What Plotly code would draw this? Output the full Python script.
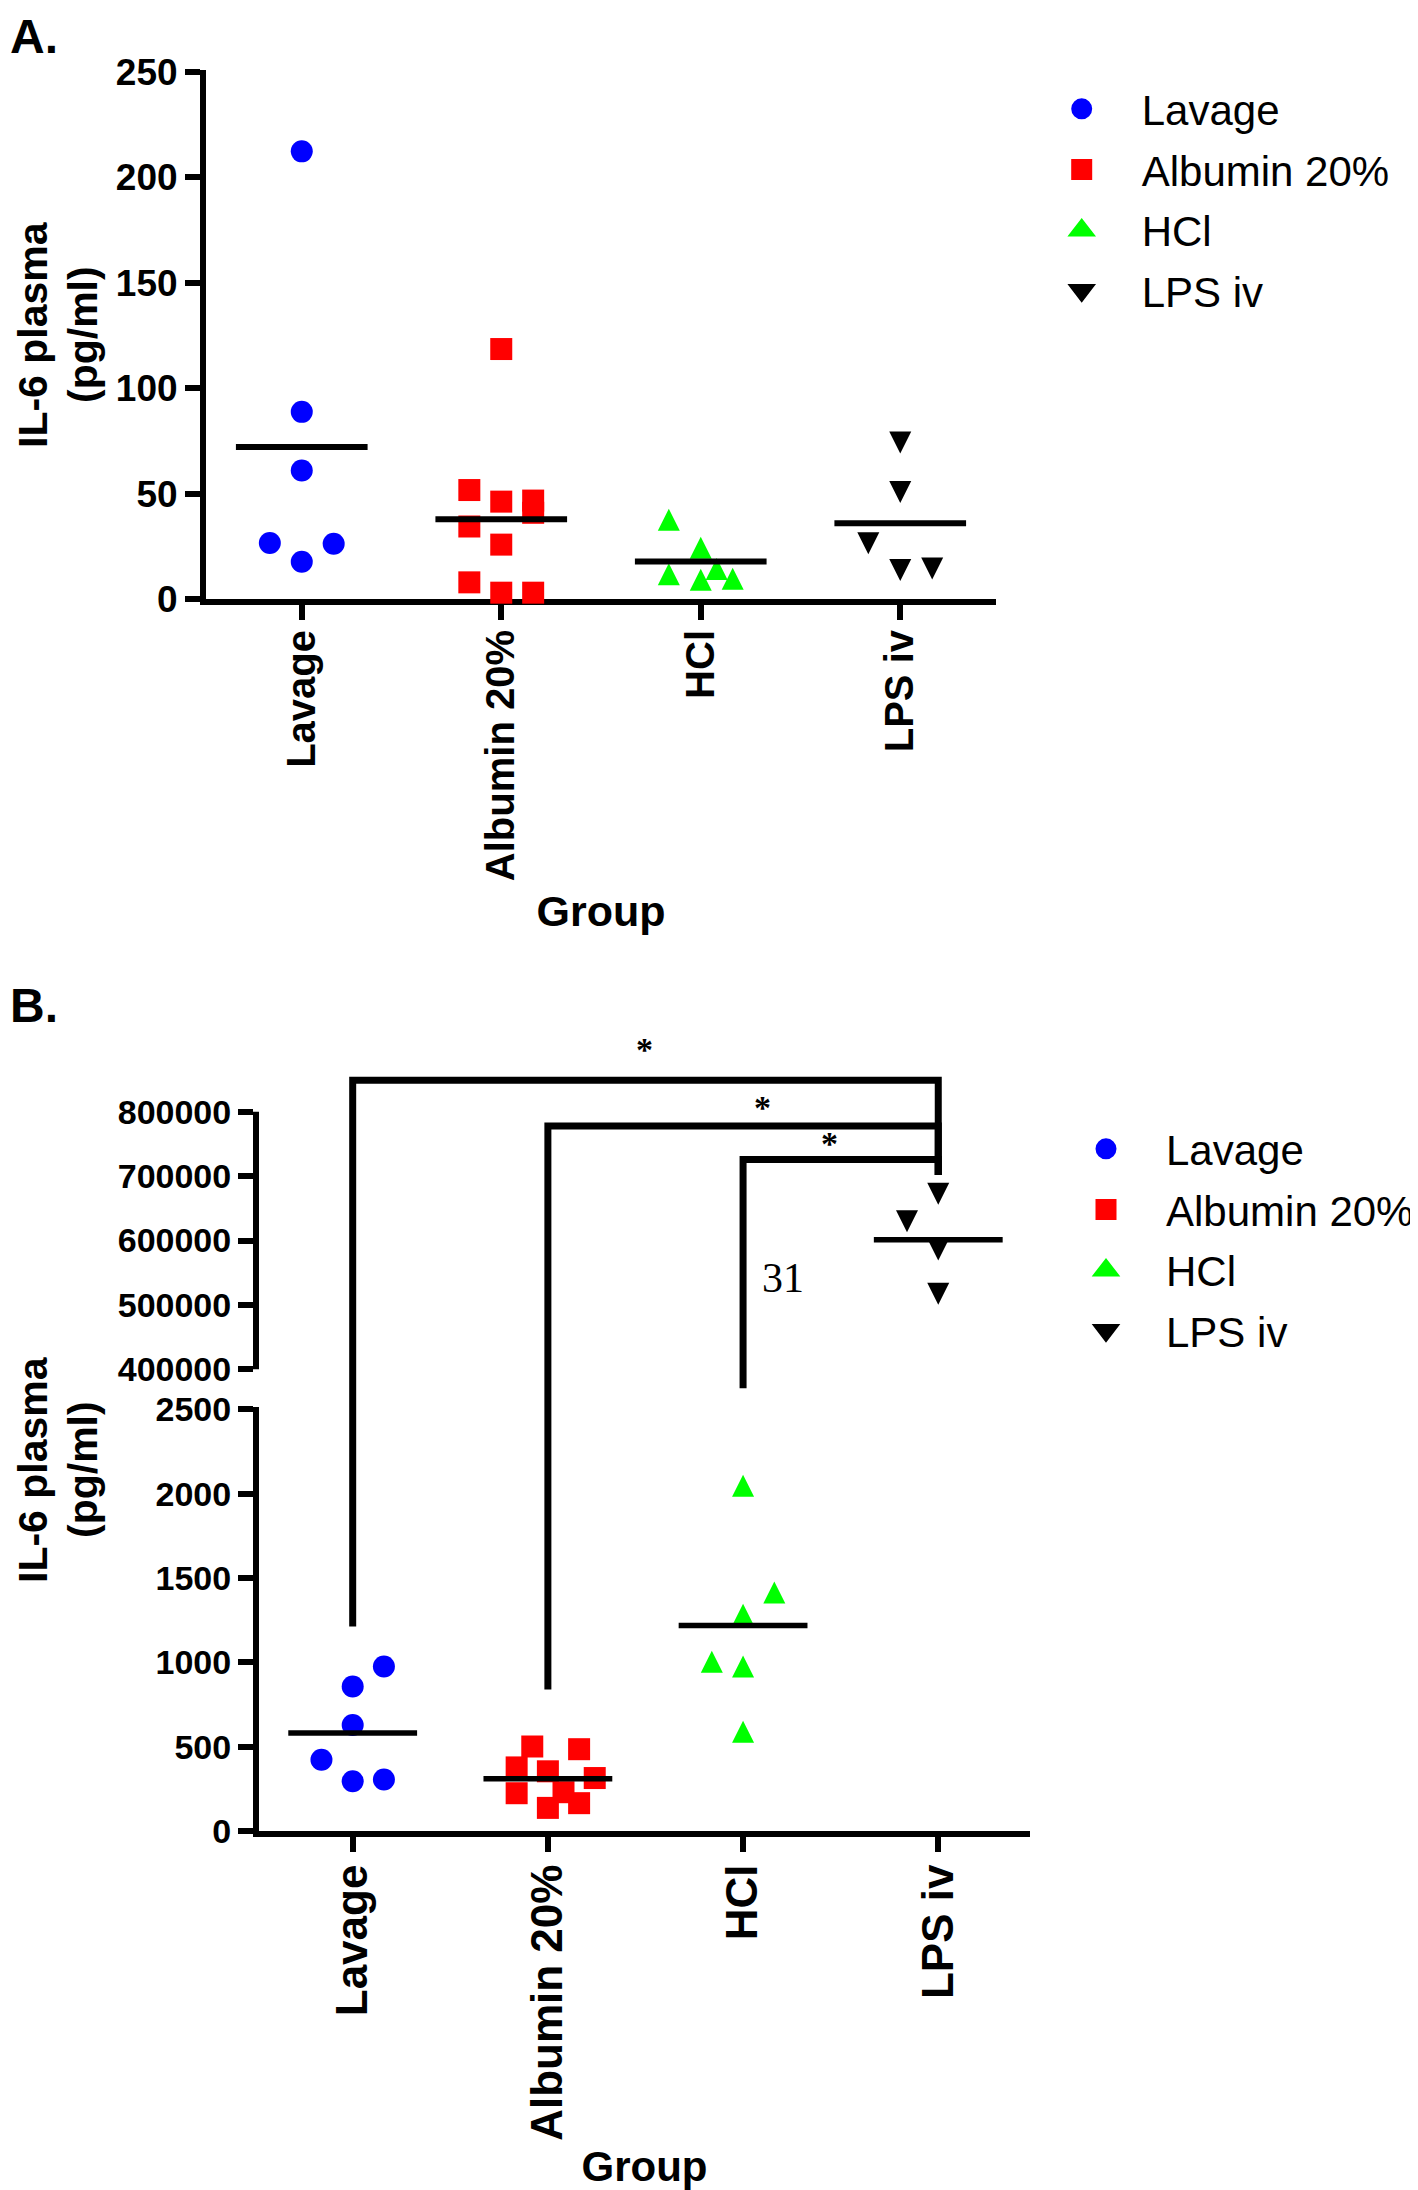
import numpy as np
import plotly.graph_objects as go

W, H = 1418, 2190          # browser window
OFF = 8                    # default page margin around the plot div
FW, FH = W - OFF, H - OFF  # figure size so that the page is filled exactly

# ---------------- data ----------------
groups = ["Lavage", "Albumin 20%", "HCl", "LPS iv"]

# Panel A: IL-6 plasma (pg/ml)
a_lavage = [212.4, 88.8, 61.0, 26.6, 26.2, 17.7]
a_albumin = [118.6, 51.7, 46.7, 46.2, 40.9, 34.4, 25.8, 7.9, 3.0, 3.0]
a_hcl = [37.6, 24.3, 14.2, 11.8, 9.6, 9.1]
a_lps = [74.2, 50.8, 26.5, 13.8, 14.5]
a_yticks = [0, 50, 100, 150, 200, 250]

# Panel B: IL-6 plasma (pg/ml), broken axis
b_lavage = [975, 857, 629, 423, 305, 295]
b_albumin = [501, 485, 377, 354, 314, 230, 224, 165, 137]
b_hcl = [2047, 1414, 1282, 1003, 975, 588]
b_lps = [672500, 629800, 586000, 517200]
b_yticks_low = [0, 500, 1000, 1500, 2000, 2500]
b_yticks_up = [400000, 500000, 600000, 700000, 800000]

# significance brackets (panel B)
br_from = [0, 1, 2]
br_to = [3, 3, 3]
br_level = [849000, 778000, 726000]          # upper-scale value of bracket bar
br_label = ["*", "*", "*"]
br_leg_scale = ["low", "low", "up"]          # scale on which the left leg ends
br_leg_end = [1212, 839, 370500]
br_right_end = 701700
note_text = "31"
note_pos = (2.207, 541800)

y_title_lines = ["IL-6 plasma", "(pg/ml)"]

# ---------------- style / layout ----------------
colors = ["#0000FF", "#FF0000", "#00FF00", "#000000"]
legend_symbols = ["circle", "square", "triangle-up", "triangle-down"]
data_symbols = ["circle", "square", "arrow-up", "arrow-down"]
sym_shift = [0, 0, 1, -1]      # arrow symbols: apex sits on the point -> centre them
MS = 22
SLOT = 0.08                     # horizontal column-scatter step (category units)

# column-scatter slot of each point (layout of the dot plot)
a_slots = [[0, 0, 0, -2, 2, 0],
           [0, -2, 2, 0, 2, -2, 0, -2, 0, 2],
           [-2, 0, 1, -2, 2, 0],
           [0, 0, -2, 0, 2]]
b_slots = [[2, 0, 0, -2, 2, 0],
           [-1, 2, -2, 0, 3, 1, -2, 2, 0],
           [0, 2, 0, -2, 0, 0],
           [0, -2, 0, 0]]

# star label placement (x in category units, vertical shift in px)
star_x = [1.497, 2.097, 2.445]
star_dy = [10, -2, -5]

# subplot geometry (page pixels)
A_X, A_Y = (206, 996), (70, 599)
B_X, B_UP, B_LO = (259, 1030), (1030, 1407), (1407, 1831)
A_XR, A_YR = [-0.48, 3.48], [0, 251]
B_XR, B_UPR, B_LOR = [-0.48, 3.47], [341500, 926900], [0, 2514]
TITLE_X = [33, 83]          # centre of each y-title line (page px)


def px(x):
    return (x - OFF) / FW


def py(y):
    return 1 - (y - OFF) / FH


def dom_x(p):
    return [px(p[0]), px(p[1])]


def dom_y(p):
    return [py(p[1]), py(p[0])]


def upp(rng, p):
    return (rng[1] - rng[0]) / (p[1] - p[0])


FONT = "Liberation Sans, Arial, Helvetica, sans-serif"
SERIF = "Liberation Serif, Times New Roman, serif"
bold = dict(family=FONT, color="black", weight="bold")

fig = go.Figure()


def add_points(vals, slots, gi, xa, ya, units_per_px):
    xs = [gi + SLOT * s for s in slots]
    ys = [v + sym_shift[gi] * (MS / 2) * units_per_px for v in vals]
    fig.add_trace(go.Scatter(
        x=xs, y=ys, mode="markers", xaxis=xa, yaxis=ya, showlegend=False,
        cliponaxis=False, hoverinfo="skip",
        marker=dict(symbol=data_symbols[gi], size=MS, color=colors[gi], line=dict(width=0))))


def add_mean(vals, gi, xa, ya, lw):
    m = float(np.mean(vals))
    fig.add_trace(go.Scatter(
        x=[gi - 0.33, gi + 0.33], y=[m, m], mode="lines", xaxis=xa, yaxis=ya,
        showlegend=False, hoverinfo="skip", cliponaxis=False,
        line=dict(color="black", width=lw)))


a_sets = [a_lavage, a_albumin, a_hcl, a_lps]
for gi, vals in enumerate(a_sets):
    add_points(vals, a_slots[gi], gi, "x", "y", upp(A_YR, A_Y))
for gi, vals in enumerate(a_sets):
    add_mean(vals, gi, "x", "y", 6)

b_sets = [b_lavage, b_albumin, b_hcl, b_lps]
for gi, vals in enumerate(b_sets):
    if gi == 3:
        add_points(vals, b_slots[gi], gi, "x2", "y2", upp(B_UPR, B_UP))
    else:
        add_points(vals, b_slots[gi], gi, "x3", "y3", upp(B_LOR, B_LO))
for gi, vals in enumerate(b_sets):
    if gi == 3:
        add_mean(vals, gi, "x2", "y2", 5.5)
    else:
        add_mean(vals, gi, "x3", "y3", 5.5)

# legend entries
for leg in ["legend", "legend2"]:
    for gi, g in enumerate(groups):
        fig.add_trace(go.Scatter(
            x=[None], y=[None], mode="markers", name=g, legend=leg,
            legendgroup=leg + str(gi), xaxis="x", yaxis="y",
            marker=dict(symbol=legend_symbols[gi], size=16, color=colors[gi],
                        line=dict(width=5, color=colors[gi]))))

# brackets
shapes = []
for f, t, lvl, sc, ev in zip(br_from, br_to, br_level, br_leg_scale, br_leg_end):
    start = ev if sc == "up" else B_UPR[0]
    shapes.append(dict(type="path", xref="x2", yref="y2",
                       path=f"M {f},{start} L {f},{lvl} L {t},{lvl} L {t},{br_right_end}",
                       line=dict(color="black", width=7)))
    if sc == "low":
        shapes.append(dict(type="line", xref="x3", yref="y3", x0=f, x1=f,
                           y0=B_LOR[1], y1=ev, line=dict(color="black", width=7)))
# visible part of the upper y-axis line
xl = -3 / (B_X[1] - B_X[0])
shapes.append(dict(type="line", xref="x2 domain", yref="y2", x0=xl, x1=xl,
                   y0=b_yticks_up[0], y1=b_yticks_up[-1],
                   line=dict(color="black", width=6)))

annotations = [
    dict(text="A.", x=px(8), y=py(8), xref="paper", yref="paper",
         xanchor="left", yanchor="top", showarrow=False, font=dict(**bold, size=48)),
    dict(text="B.", x=px(8), y=py(977), xref="paper", yref="paper",
         xanchor="left", yanchor="top", showarrow=False, font=dict(**bold, size=48)),
    dict(text=note_text, x=note_pos[0], y=note_pos[1], xref="x2", yref="y2",
         showarrow=False, font=dict(family=SERIF, size=42, color="black")),
]
for yc in [335, 1470]:
    for line, xc in zip(y_title_lines, TITLE_X):
        annotations.append(dict(text=line, x=px(xc), y=py(yc), xref="paper", yref="paper",
                                textangle=-90, xanchor="center", yanchor="middle",
                                showarrow=False, font=dict(**bold, size=41)))
for sx, lvl, lab, dy in zip(star_x, br_level, br_label, star_dy):
    annotations.append(dict(text=lab, x=sx, y=lvl, xref="x2", yref="y2",
                            yanchor="bottom", yshift=dy, showarrow=False,
                            font=dict(family=SERIF, size=34, color="black", weight="bold")))

common_axis = dict(showgrid=False, zeroline=False, ticks="outside", ticklen=15, tickwidth=5.5,
                   tickcolor="black", showline=True, linecolor="black", linewidth=6,
                   layer="below traces")

legend_style = dict(xanchor="left", yanchor="top",
                    font=dict(family=FONT, size=42, color="black"), itemwidth=110,
                    tracegroupgap=3, bgcolor="rgba(0,0,0,0)", borderwidth=0)

fig.update_layout(
    width=FW, height=FH, margin=dict(l=0, r=0, t=0, b=0, autoexpand=False),
    paper_bgcolor="white", plot_bgcolor="white", hovermode=False,
    xaxis=dict(domain=dom_x(A_X), range=A_XR, anchor="y", tickmode="array",
               tickvals=[0, 1, 2, 3], ticktext=groups, tickangle=-90,
               tickfont=dict(**bold, size=40), ticklabelstandoff=-6,
               title=dict(text="Group", font=dict(**bold, size=43), standoff=18),
               **common_axis),
    yaxis=dict(domain=dom_y(A_Y), range=A_YR, anchor="x", tickmode="array",
               tickvals=a_yticks, tickfont=dict(**bold, size=37), **common_axis),
    xaxis2=dict(domain=dom_x(B_X), range=B_XR, anchor="y2", visible=False),
    yaxis2=dict(domain=dom_y(B_UP), range=B_UPR, anchor="x2", tickmode="array",
                tickvals=b_yticks_up, tickformat="d", tickfont=dict(**bold, size=34),
                **{**common_axis, "linecolor": "rgba(0,0,0,0)"}),
    xaxis3=dict(domain=dom_x(B_X), range=B_XR, anchor="y3", tickmode="array",
                tickvals=[0, 1, 2, 3], ticktext=groups, tickangle=-90,
                tickfont=dict(**bold, size=44), ticklabelstandoff=-5,
                title=dict(text="Group", font=dict(**bold, size=42), standoff=15),
                **common_axis),
    yaxis3=dict(domain=dom_y(B_LO), range=B_LOR, anchor="x3", tickmode="array",
                tickvals=b_yticks_low, tickfont=dict(**bold, size=34), **common_axis),
    legend=dict(x=px(1021.7), y=py(75), **legend_style),
    legend2=dict(x=px(1046), y=py(1115), **legend_style),
    shapes=shapes, annotations=annotations,
)

fig.write_html("out.html")
